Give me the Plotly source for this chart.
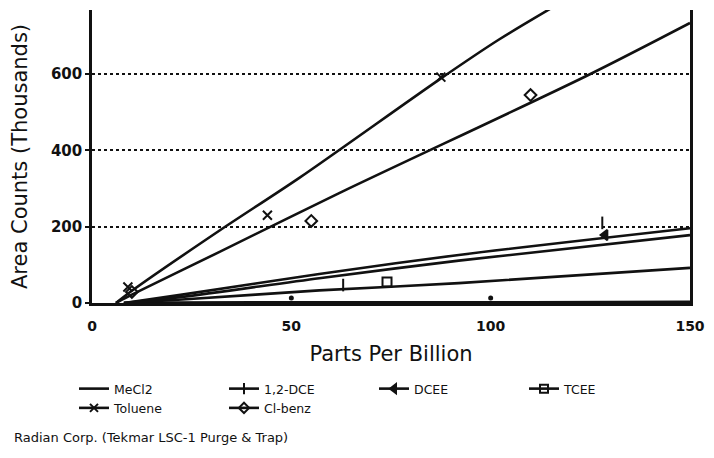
import plotly.graph_objects as go

# ---- fitted curves ----
tol_fit_x = [6, 10, 32, 52, 87, 102, 118]
tol_fit_y = [0, 32, 190, 328, 585, 690, 790]
clb_fit_x = [6, 10, 32, 62, 124, 150]
clb_fit_y = [0, 22, 134, 288, 595, 734]
dce_fit_x = [8, 22.6, 57, 92, 150]
dce_fit_y = [0, 22, 76, 126, 196]
dcee_fit_x = [8, 22.6, 57, 92, 150]
dcee_fit_y = [0, 16, 65, 111, 178]
tcee_fit_x = [8, 22.6, 57, 92, 150]
tcee_fit_y = [0, 9, 33, 52, 92]
mecl_fit_x = [8, 20, 67, 110, 150]
mecl_fit_y = [0, 1, 2, 2, 3]

# ---- data points (markers) ----
tol_x = [9, 44, 87.5]
tol_y = [42, 230, 592]
clb_x = [10, 55, 110]
clb_y = [29, 215, 545]
dce_x = [63, 128]
dce_y = [47, 210]
dcee_x = [128.7]
dcee_y = [178]
tcee_x = [74]
tcee_y = [55]
mecl_x = [50, 100]
mecl_y = [13, 13]

names = ["MeCl2", "1,2-DCE", "DCEE", "TCEE", "Toluene", "Cl-benz"]
symbols = [None, "line-ns", "triangle-left", "square-open", "x-thin-open", "diamond-open"]

BLK = "#111111"
fig = go.Figure()

fits = [(mecl_fit_x, mecl_fit_y), (dce_fit_x, dce_fit_y), (dcee_fit_x, dcee_fit_y),
        (tcee_fit_x, tcee_fit_y), (tol_fit_x, tol_fit_y), (clb_fit_x, clb_fit_y)]
pts = [(mecl_x, mecl_y), (dce_x, dce_y), (dcee_x, dcee_y),
       (tcee_x, tcee_y), (tol_x, tol_y), (clb_x, clb_y)]

for (fx, fy) in fits:
    fig.add_trace(go.Scatter(x=fx, y=fy, mode="lines",
                             line=dict(color=BLK, width=2.6, shape="spline", smoothing=0.8),
                             showlegend=False, hoverinfo="skip"))
for i, (px, py) in enumerate(pts):
    sym = symbols[i] if symbols[i] else "circle"
    size = 3 if symbols[i] is None else 9
    fig.add_trace(go.Scatter(x=px, y=py, mode="markers",
                             marker=dict(symbol=sym, size=size, color=BLK,
                                         line=dict(color=BLK, width=2)),
                             showlegend=False))
for i, n in enumerate(names):
    if symbols[i] is None:
        fig.add_trace(go.Scatter(x=[None], y=[None], mode="lines", name=n,
                                 line=dict(color=BLK, width=2.6)))
    else:
        fig.add_trace(go.Scatter(x=[None], y=[None], mode="lines+markers", name=n,
                                 line=dict(color=BLK, width=2.6),
                                 marker=dict(symbol=symbols[i], size=8, color=BLK,
                                             line=dict(color=BLK, width=2))))

FONT = "DejaVu Sans"
W, H = 706, 450   # page body adds an 8px margin
L, T, PW, PH = 84, 2, 598, 293
fig.update_layout(
    width=W, height=H,
    margin=dict(l=L, r=W - L - PW, t=T, b=H - T - PH),
    paper_bgcolor="white", plot_bgcolor="white",
    font=dict(family=FONT, color=BLK, size=13),
    xaxis=dict(range=[0, 150], tickvals=[0, 50, 100, 150], showgrid=False,
               showline=True, linecolor=BLK, linewidth=2.5, zeroline=False,
               ticks="", ticklabelstandoff=8, automargin=False,
               tickfont=dict(size=14, family=FONT, weight="bold"),
               title=dict(text="Parts Per Billion", font=dict(size=21, family=FONT), standoff=14)),
    yaxis=dict(range=[0, 768], tickvals=[0, 200, 400, 600], showgrid=True,
               gridcolor=BLK, griddash="dot", gridwidth=1.5,
               showline=True, linecolor=BLK, linewidth=2.5, mirror=True, zeroline=False,
               ticks="outside", ticklen=4, tickcolor=BLK, tickwidth=2, automargin=False,
               tickfont=dict(size=15, family=FONT, weight="bold"),
               title=dict(text="Area Counts (Thousands)", font=dict(size=21, family=FONT), standoff=26)),
    legend=dict(orientation="h", xref="container", yref="container",
                x=66 / W, y=1 - 366 / H, xanchor="left", yanchor="top",
                entrywidth=105, entrywidthmode="pixels",
                font=dict(size=12.5, family=FONT), bgcolor="rgba(0,0,0,0)",
                tracegroupgap=0),
    annotations=[dict(text="Radian Corp. (Tekmar LSC-1 Purge & Trap)", xref="paper", yref="paper",
                      x=(4 - L) / PW, y=-(429 - (T + PH)) / PH, xanchor="left", yanchor="middle",
                      showarrow=False, font=dict(size=13, family=FONT))],
)

fig.write_html("out.html")
